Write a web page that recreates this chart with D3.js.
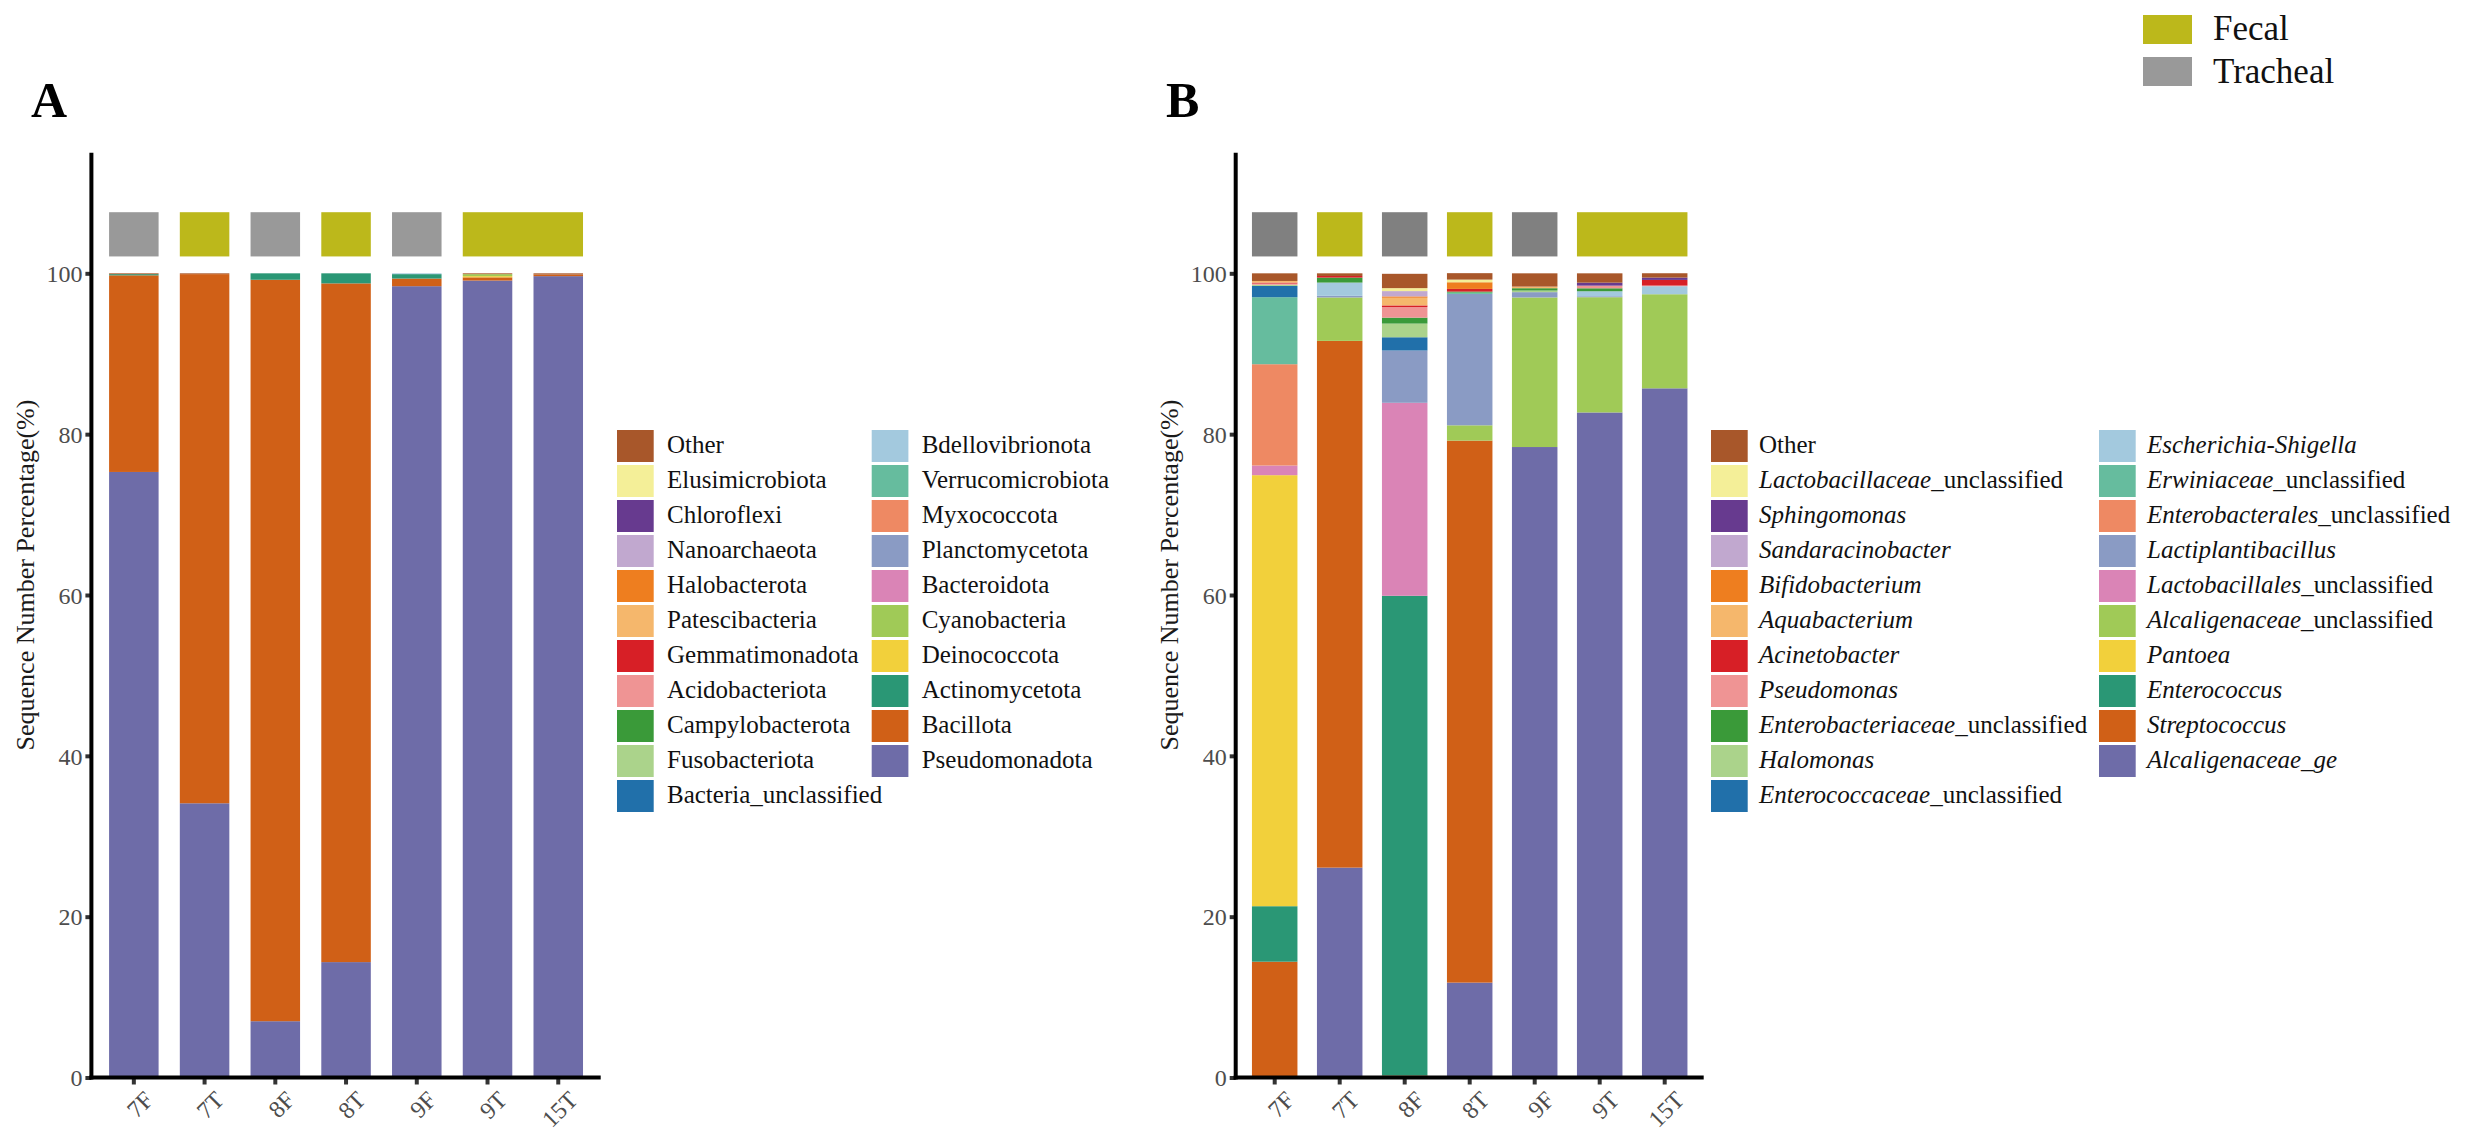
<!DOCTYPE html>
<html><head><meta charset="utf-8">
<script src="https://cdn.jsdelivr.net/npm/d3@7/dist/d3.min.js"></script>
<style>
html,body{margin:0;padding:0;background:#fff;}
svg{display:block;font-family:'Liberation Serif','Times New Roman',serif;}
</style></head>
<body><svg id="chart" width="2483" height="1138"></svg>
<script>
// ---------- data ----------
const samples = ["7F","7T","8F","8T","9F","9T","15T"];
const sampleGroups = ["Tracheal","Fecal","Tracheal","Fecal","Tracheal","Fecal","Fecal"];
const groupNames = ["Fecal","Tracheal"];
const yTicks = [0,20,40,60,80,100];

const taxaColors = ["#A8572A","#F4EF98","#673A8F","#C1A8CF","#EE7E1F","#F5B76C","#D71F26",
  "#EF9494","#3A9A39","#ABD38B","#2170AA","#A3C9DE","#66BC9E","#EE8963","#8A9BC4",
  "#DA84B6","#A0CA57","#F2D03B","#2A9775","#D06017","#6E6CA8"];

// Panel A (phylum) — legend order
const phylumTaxa = ["Other","Elusimicrobiota","Chloroflexi","Nanoarchaeota","Halobacterota",
  "Patescibacteria","Gemmatimonadota","Acidobacteriota","Campylobacterota","Fusobacteriota",
  "Bacteria_unclassified","Bdellovibrionota","Verrucomicrobiota","Myxococcota","Planctomycetota",
  "Bacteroidota","Cyanobacteria","Deinococcota","Actinomycetota","Bacillota","Pseudomonadota"];
const phylum_7F  = [0.1,0,0,0,0,0,0,0,0,0,0,0,0,0,0,0,0,0,0.15,24.45,75.3];
const phylum_7T  = [0.1,0,0,0,0,0,0,0,0,0,0,0,0,0,0,0,0,0,0,65.8,34.1];
const phylum_8F  = [0,0,0,0,0,0,0,0,0,0,0,0,0,0,0,0,0,0,0.8,92.2,7.0];
const phylum_8T  = [0,0,0,0,0,0,0,0,0,0,0,0,0,0,0,0,0,0,1.25,84.4,14.35];
const phylum_9F  = [0,0,0,0,0,0,0,0,0,0,0,0.1,0,0,0,0,0,0,0.55,0.95,98.4];
const phylum_9T  = [0.1,0,0,0,0,0,0,0,0,0,0,0,0,0,0,0,0.25,0.15,0,0.4,99.1];
const phylum_15T = [0.15,0,0,0,0,0,0,0,0,0,0,0,0,0,0,0,0,0,0,0.2,99.65];

// Panel B (genus) — legend order
const genusTaxa = ["Other","Lactobacillaceae_unclassified","Sphingomonas","Sandaracinobacter",
  "Bifidobacterium","Aquabacterium","Acinetobacter","Pseudomonas","Enterobacteriaceae_unclassified",
  "Halomonas","Enterococcaceae_unclassified","Escherichia-Shigella","Erwiniaceae_unclassified",
  "Enterobacterales_unclassified","Lactiplantibacillus","Lactobacillales_unclassified",
  "Alcaligenaceae_unclassified","Pantoea","Enterococcus","Streptococcus","Alcaligenaceae_ge"];
const genus_7F  = [0.95,0,0,0,0,0.2,0.12,0.15,0,0.15,1.4,0,8.33,12.6,0,1.2,0,53.6,6.9,14.4,0];
const genus_7T  = [0.33,0,0,0,0,0,0.2,0,0.62,0,0,1.65,0,0,0.2,0,5.4,0,0,65.5,26.1];
const genus_8F  = [1.78,0.37,0,0.66,0.17,0.95,0.2,1.32,0.74,1.7,1.65,0,0,0,6.5,24.0,0,0,59.65,0.25,0];
const genus_8T  = [0.8,0.33,0,0,0.83,0,0.33,0,0.12,0,0,0,0.17,0,16.34,0,1.9,0,0,67.4,11.8];
const genus_9F  = [1.65,0,0,0,0,0.2,0,0,0.29,0.2,0,0,0,0,0.66,0,18.6,0,0,0,78.4];
const genus_9T  = [1.16,0,0.37,0,0,0,0,0.33,0.37,0,0,0.62,0,0,0.12,0,14.33,0,0,0,82.7];
const genus_15T = [0.54,0,0.29,0,0,0,0.7,0.08,0,0,0,1.0,0,0,0,0,11.7,0,0,0,85.7];

// ---------- drawing ----------
const svg = d3.select("#chart");
svg.append("rect").attr("width",2483).attr("height",1138).attr("fill","#fff");
const FONT = "'Liberation Serif','Times New Roman',serif";
const Y0 = 1077.5;

function buildRows(taxa, cols){
  return samples.map((s,i)=>{
    const row = {sample:s};
    taxa.forEach((t,j)=>{ row[t] = cols[i][j]; });
    return row;
  });
}

function drawPanel(opt){
  const g = svg.append("g");
  const x = d3.scaleBand().domain(samples).range([opt.x0, opt.x1]).paddingInner(0.3).paddingOuter(0.25);
  const y = d3.scaleLinear().domain([0,115]).range([Y0,152.7]);
  const rows = buildRows(opt.taxa, opt.cols);
  const keys = opt.taxa.slice().reverse();
  const stack = d3.stack().keys(keys)(rows);
  const color = d3.scaleOrdinal().domain(opt.taxa).range(taxaColors);

  g.selectAll("g.layer").data(stack).join("g").attr("class","layer")
    .attr("fill",d=>color(d.key))
    .selectAll("rect").data(d=>d).join("rect")
    .attr("x",d=>x(d.data.sample)).attr("width",x.bandwidth())
    .attr("y",d=>y(d[1])).attr("height",d=>Math.max(0,y(d[0])-y(d[1])));

  // group annotation rects (merge consecutive same group)
  const segs = [];
  sampleGroups.forEach((gname,i)=>{
    const last = segs[segs.length-1];
    if(last && last.group===gname && last.end===i-1){ last.end=i; }
    else segs.push({group:gname,start:i,end:i});
  });
  const gcol = {Fecal:"#BCB81B", Tracheal:opt.trachealColor};
  g.selectAll("rect.grp").data(segs).join("rect").attr("class","grp")
    .attr("x",d=>x(samples[d.start]))
    .attr("width",d=>x(samples[d.end])+x.bandwidth()-x(samples[d.start]))
    .attr("y",y(107.6)).attr("height",y(102.1)-y(107.6))
    .attr("fill",d=>gcol[d.group]);

  // y axis
  const yAxis = d3.axisLeft(y).tickValues(yTicks).tickSize(6).tickPadding(3).tickFormat(d3.format("d"));
  const ya = g.append("g").attr("transform",`translate(${opt.x0},0)`).call(yAxis);
  ya.select(".domain").remove();
  ya.selectAll(".tick line").attr("stroke","#333").attr("stroke-width",4);
  ya.selectAll(".tick text").attr("font-family",FONT).attr("font-size",24).attr("fill","#4D4D4D").attr("dy","0.34em");
  g.append("line").attr("x1",opt.x0).attr("x2",opt.x0).attr("y1",152.7).attr("y2",Y0+2)
    .attr("stroke","#000").attr("stroke-width",4);

  // x axis
  const xAxis = d3.axisBottom(x).tickSize(7).tickPadding(0);
  const xa = g.append("g").attr("transform",`translate(0,${Y0})`).call(xAxis);
  xa.select(".domain").remove();
  xa.selectAll(".tick line").attr("stroke","#333").attr("stroke-width",4);
  xa.selectAll(".tick text").attr("font-family",FONT).attr("font-size",24).attr("fill","#4D4D4D")
    .attr("text-anchor","end").attr("dy","0.7em")
    .attr("transform","translate(9,12) rotate(-45)").attr("y",0);
  g.append("line").attr("x1",opt.x0-2).attr("x2",opt.x1).attr("y1",Y0).attr("y2",Y0)
    .attr("stroke","#000").attr("stroke-width",4);

  // y title
  g.append("text").attr("transform",`translate(${opt.x0-66},575) rotate(-90)`)
    .attr("text-anchor","middle").attr("dominant-baseline","central")
    .attr("font-family",FONT).attr("font-size",26).attr("fill","#1a1a1a")
    .text("Sequence Number Percentage(%)");

  // panel letter
  g.append("text").attr("x",opt.letterX).attr("y",117).attr("font-family",FONT)
    .attr("font-weight","bold").attr("font-size",50).attr("fill","#000").text(opt.letter);

  // legend
  const lg = g.append("g");
  opt.taxa.forEach((t,i)=>{
    const col = i<11?0:1, row = i<11?i:i-11;
    const sx = opt.legX[col], sy = 430 + row*35;
    lg.append("rect").attr("x",sx).attr("y",sy).attr("width",36.7).attr("height",32).attr("fill",color(t));
    const tx = lg.append("text").attr("x",sx+opt.legTextOff).attr("y",sy+23)
      .attr("font-family",FONT).attr("font-size",25).attr("fill","#111");
    if(!opt.italic || t==="Other"){ tx.text(t); }
    else if(t.endsWith("_unclassified")){
      tx.append("tspan").attr("font-style","italic").text(t.replace("_unclassified",""));
      tx.append("tspan").text("_unclassified");
    } else {
      tx.append("tspan").attr("font-style","italic").text(t);
    }
  });
}

drawPanel({taxa:phylumTaxa, cols:[phylum_7F,phylum_7T,phylum_8F,phylum_8T,phylum_9F,phylum_9T,phylum_15T],
  x0:91.4, x1:600.7, trachealColor:"#999999", letter:"A", letterX:31,
  legX:[617,871.7], legTextOff:50, italic:false});
drawPanel({taxa:genusTaxa, cols:[genus_7F,genus_7T,genus_8F,genus_8T,genus_9F,genus_9T,genus_15T],
  x0:1235.7, x1:1703.7, trachealColor:"#808080", letter:"B", letterX:1166,
  legX:[1711,2099], legTextOff:48, italic:true});

// group legend (top right)
const gl = svg.append("g");
const glColors = ["#BCB81B","#999999"];
groupNames.forEach((n,i)=>{
  gl.append("rect").attr("x",2143).attr("y",15+i*42).attr("width",49).attr("height",29).attr("fill",glColors[i]);
  gl.append("text").attr("x",2213).attr("y",40+i*43).attr("font-family",FONT).attr("font-size",35)
    .attr("fill","#111").text(n);
});
</script></body></html>
